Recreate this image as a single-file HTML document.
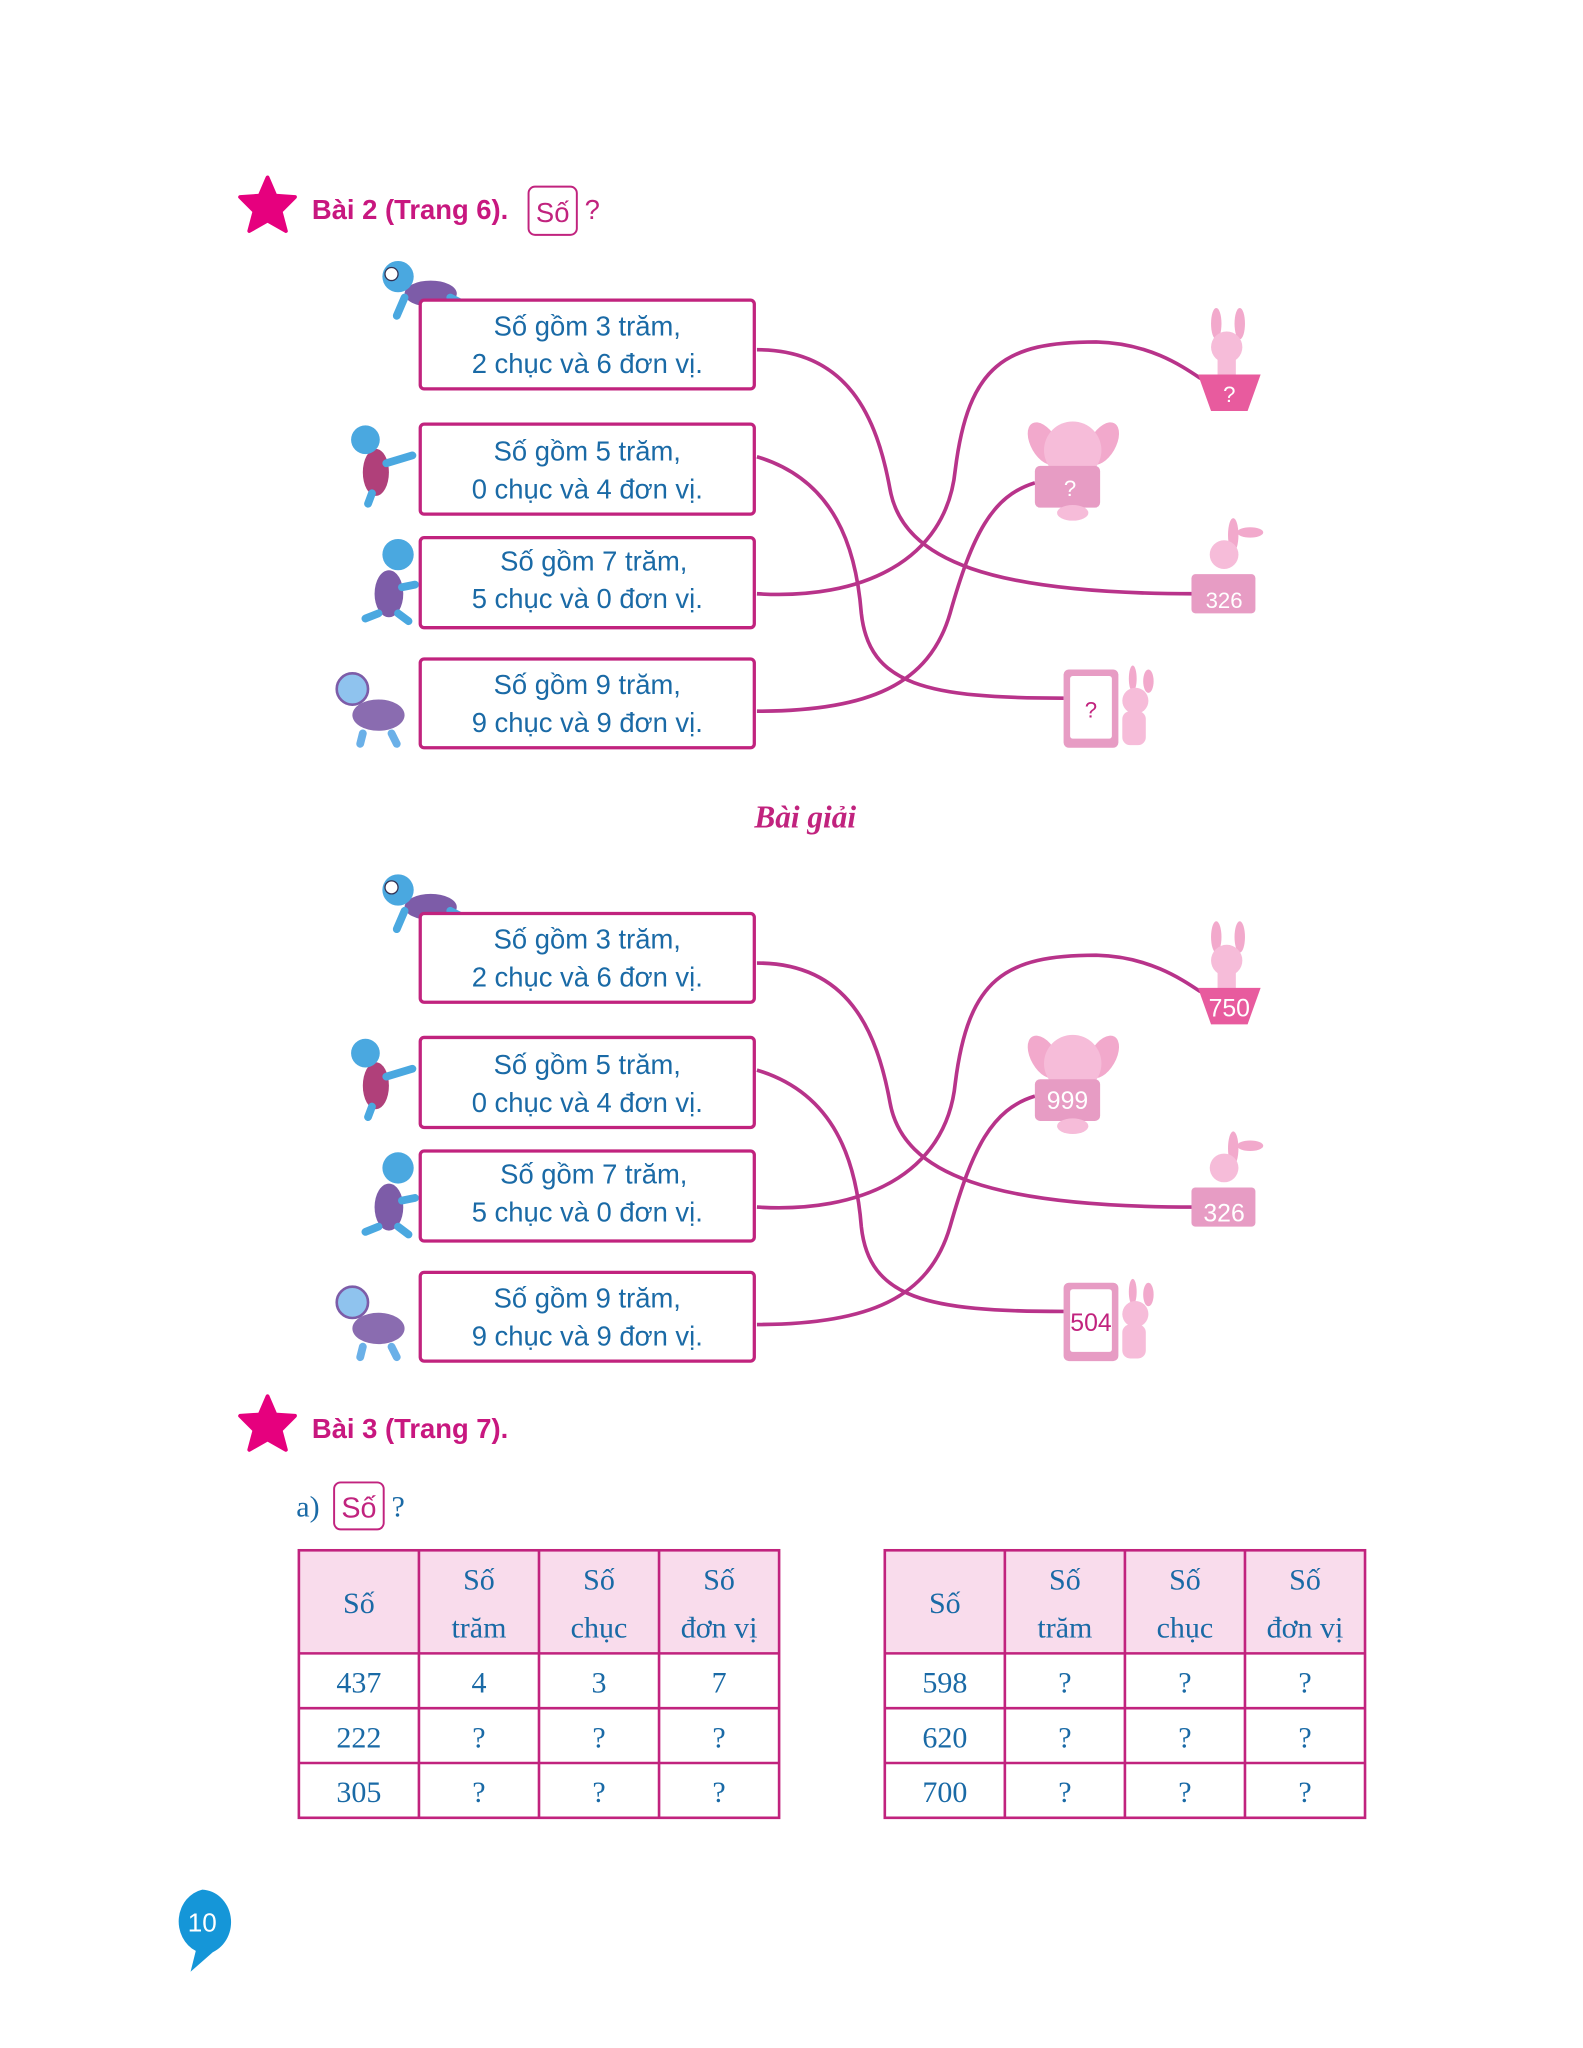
<!DOCTYPE html>
<html><head><meta charset="utf-8"><style>html,body{margin:0;padding:0;background:#fff}svg{display:block}</style></head>
<body>
<svg width="1583" height="2048" viewBox="0 0 1213 1569.4" xmlns="http://www.w3.org/2000/svg">
<defs>
<g id="star"><polygon points="0,-22 6,-8 21,-7 10,4 14,19 0,11 -14,19 -10,4 -21,-7 -6,-8" fill="#e6007e" stroke="#e6007e" stroke-width="3" stroke-linejoin="round"/></g>
<g id="turtle1"><ellipse cx="330" cy="225" rx="20" ry="10" fill="#7d5ca8"/><circle cx="305" cy="212" r="12" fill="#4aa8e0"/><circle cx="300" cy="210" r="5" fill="#fff" stroke="#335" stroke-width="1"/><path d="M310,228 l-6,14 M325,232 l4,10 M345,228 l12,6" stroke="#4aa8e0" stroke-width="6" stroke-linecap="round"/></g>
<g id="turtle2"><ellipse cx="288" cy="362" rx="10" ry="18" fill="#b0407a"/><circle cx="280" cy="337" r="11" fill="#4aa8e0"/><path d="M296,355 l20,-6 M285,378 l-3,8" stroke="#4aa8e0" stroke-width="6" stroke-linecap="round"/></g>
<g id="turtle3"><ellipse cx="298" cy="455" rx="11" ry="18" fill="#7d5ca8"/><circle cx="305" cy="425" r="12" fill="#4aa8e0"/><path d="M290,470 l-10,4 M305,470 l8,6 M308,450 l10,-2" stroke="#4aa8e0" stroke-width="6" stroke-linecap="round"/></g>
<g id="turtle4"><ellipse cx="290" cy="548" rx="20" ry="12" fill="#8a6cb0"/><circle cx="270" cy="528" r="12" fill="#8fc3ee" stroke="#7d5ca8" stroke-width="2"/><path d="M278,562 l-2,8 M300,562 l4,8" stroke="#6ab0e8" stroke-width="6" stroke-linecap="round"/></g>
<g id="boxes" fill="#fff" stroke="#c1237e" stroke-width="2.5">
<rect x="322" y="230" width="256" height="68" rx="3"/>
<rect x="322" y="325" width="256" height="69" rx="3"/>
<rect x="322" y="412" width="256" height="69" rx="3"/>
<rect x="322" y="505" width="256" height="68" rx="3"/>
</g>
<g id="lines" fill="none" stroke="#b8338a" stroke-width="2.8">
<path d="M580,268 C650,268 672,320 682,375 C692,430 760,455 915,455"/>
<path d="M580,350 C640,368 656,420 660,470 C666,525 710,535 815,535"/>
<path d="M580,455 C660,460 725,430 732,360 C742,280 770,262 840,262 C880,263 905,280 920,290"/>
<path d="M580,545 C665,545 712,525 728,470 C745,410 760,380 793,370"/>
</g>
<g id="rabbits">
<ellipse cx="932" cy="248" rx="4" ry="12" fill="#f2a9cc"/><ellipse cx="950" cy="248" rx="4" ry="12" fill="#f2a9cc"/>
<circle cx="940" cy="266" r="12" fill="#f6bcd9"/><rect x="933" y="274" width="14" height="14" fill="#f6bcd9"/>
<path d="M918,287 h48 l-10,28 h-28 z" fill="#e85b9e"/>
<ellipse cx="800" cy="340" rx="10" ry="18" fill="#f2a9cc" transform="rotate(-30 800 340)"/><ellipse cx="845" cy="340" rx="10" ry="18" fill="#f2a9cc" transform="rotate(30 845 340)"/>
<circle cx="822" cy="345" r="22" fill="#f6bcd9"/>
<rect x="793" y="357" width="50" height="32" rx="4" fill="#e79cc4"/><ellipse cx="822" cy="393" rx="12" ry="6" fill="#f6bcd9"/>
<ellipse cx="945" cy="410" rx="4" ry="13" fill="#f2a9cc"/><ellipse cx="958" cy="408" rx="10" ry="4" fill="#f2a9cc"/>
<circle cx="938" cy="425" r="11" fill="#f6bcd9"/>
<rect x="913" y="440" width="49" height="30" rx="3" fill="#e79cc4"/>
<rect x="815" y="513" width="42" height="60" rx="4" fill="#e79cc4"/><rect x="820" y="518" width="32" height="48" rx="2" fill="#fff"/>
<ellipse cx="868" cy="520" rx="3" ry="10" fill="#f2a9cc"/><ellipse cx="880" cy="522" rx="4" ry="9" fill="#f2a9cc"/>
<circle cx="870" cy="537" r="10" fill="#f6bcd9"/><rect x="860" y="545" width="18" height="26" rx="6" fill="#f6bcd9"/>
</g>
<g id="section"><use href="#turtle1"/><use href="#turtle2"/><use href="#turtle3"/><use href="#turtle4"/><use href="#lines"/><use href="#boxes"/><use href="#rabbits"/></g>
</defs>

<g font-family="'Liberation Sans', sans-serif">
<use href="#star" x="205" y="158"/>
<text x="239" y="168" font-size="21" font-weight="bold" fill="#c8177f">Bài 2 (Trang 6).</text>
<rect x="405" y="143" width="37" height="37" rx="5" fill="none" stroke="#c1237e" stroke-width="1.5"/>
<text x="423.5" y="170" font-size="21" fill="#c1237e" text-anchor="middle">Số</text>
<text x="448" y="168" font-size="21" fill="#c1237e">?</text>

<use href="#section"/>
<g font-size="21" fill="#1a6aa6" text-anchor="middle">
<text x="450" y="257">Số gồm 3 trăm,</text><text x="450" y="286">2 chục và 6 đơn vị.</text>
<text x="450" y="353">Số gồm 5 trăm,</text><text x="450" y="382">0 chục và 4 đơn vị.</text>
<text x="455" y="437">Số gồm 7 trăm,</text><text x="450" y="466">5 chục và 0 đơn vị.</text>
<text x="450" y="532">Số gồm 9 trăm,</text><text x="450" y="561">9 chục và 9 đơn vị.</text>
</g>
<g font-size="17" fill="#fff" text-anchor="middle">
<text x="942" y="308">?</text><text x="820" y="380">?</text><text x="938" y="466">326</text>
</g>
<text x="836" y="550" font-size="17" fill="#c1237e" text-anchor="middle">?</text>

<text x="617" y="634" font-family="'Liberation Serif', serif" font-size="24" font-weight="bold" font-style="italic" fill="#c1237e" text-anchor="middle">Bài giải</text>

<g transform="translate(0,470)">
<use href="#section"/>
<g font-size="21" fill="#1a6aa6" text-anchor="middle">
<text x="450" y="257">Số gồm 3 trăm,</text><text x="450" y="286">2 chục và 6 đơn vị.</text>
<text x="450" y="353">Số gồm 5 trăm,</text><text x="450" y="382">0 chục và 4 đơn vị.</text>
<text x="455" y="437">Số gồm 7 trăm,</text><text x="450" y="466">5 chục và 0 đơn vị.</text>
<text x="450" y="532">Số gồm 9 trăm,</text><text x="450" y="561">9 chục và 9 đơn vị.</text>
</g>
<g font-size="19" fill="#fff" text-anchor="middle">
<text x="942" y="309">750</text><text x="818" y="380">999</text><text x="938" y="466">326</text>
</g>
<text x="836" y="550" font-size="19" fill="#c1237e" text-anchor="middle">504</text>
</g>

<use href="#star" x="205" y="1092"/>
<text x="239" y="1102" font-size="21" font-weight="bold" fill="#c8177f">Bài 3 (Trang 7).</text>

<g font-family="'Liberation Serif', serif">
<text x="227" y="1162" font-size="23" fill="#1a6aa6">a)</text>
<rect x="256" y="1136" width="38" height="36" rx="5" fill="none" stroke="#c1237e" stroke-width="1.5"/>
<text x="275" y="1163" font-size="22" fill="#c1237e" text-anchor="middle" font-family="'Liberation Sans', sans-serif">Số</text>
<text x="300" y="1162" font-size="23" fill="#1a6aa6">?</text>
</g>

<g font-family="'Liberation Serif', serif" font-size="23" fill="#1a6aa6" text-anchor="middle">
<g>
<rect x="229" y="1188" width="368" height="79" fill="#f9dcec"/>
<g stroke="#c1237e" stroke-width="2" fill="none">
<rect x="229" y="1188" width="368" height="205"/>
<path d="M229,1267 H597 M229,1309 H597 M229,1351 H597 M321,1188 V1393 M413,1188 V1393 M505,1188 V1393"/>
</g>
<text x="275" y="1236">Số</text>
<text x="367" y="1218">Số</text><text x="367" y="1255">trăm</text>
<text x="459" y="1218">Số</text><text x="459" y="1255">chục</text>
<text x="551" y="1218">Số</text><text x="551" y="1255">đơn vị</text>
<text x="275" y="1297">437</text><text x="367" y="1297">4</text><text x="459" y="1297">3</text><text x="551" y="1297">7</text>
<text x="275" y="1339">222</text><text x="367" y="1339">?</text><text x="459" y="1339">?</text><text x="551" y="1339">?</text>
<text x="275" y="1381">305</text><text x="367" y="1381">?</text><text x="459" y="1381">?</text><text x="551" y="1381">?</text>
</g>
<g transform="translate(449,0)">
<rect x="229" y="1188" width="368" height="79" fill="#f9dcec"/>
<g stroke="#c1237e" stroke-width="2" fill="none">
<rect x="229" y="1188" width="368" height="205"/>
<path d="M229,1267 H597 M229,1309 H597 M229,1351 H597 M321,1188 V1393 M413,1188 V1393 M505,1188 V1393"/>
</g>
<text x="275" y="1236">Số</text>
<text x="367" y="1218">Số</text><text x="367" y="1255">trăm</text>
<text x="459" y="1218">Số</text><text x="459" y="1255">chục</text>
<text x="551" y="1218">Số</text><text x="551" y="1255">đơn vị</text>
<text x="275" y="1297">598</text><text x="367" y="1297">?</text><text x="459" y="1297">?</text><text x="551" y="1297">?</text>
<text x="275" y="1339">620</text><text x="367" y="1339">?</text><text x="459" y="1339">?</text><text x="551" y="1339">?</text>
<text x="275" y="1381">700</text><text x="367" y="1381">?</text><text x="459" y="1381">?</text><text x="551" y="1381">?</text>
</g>
</g>

<path d="M155,1448 a23,25 0 0 1 8,48 l-17,15 l4,-16 a23,25 0 0 1 5,-47 z" fill="#1596d8"/>
<text x="155" y="1480" font-size="20" fill="#fff" text-anchor="middle">10</text>
</g>
</svg>
</body></html>
